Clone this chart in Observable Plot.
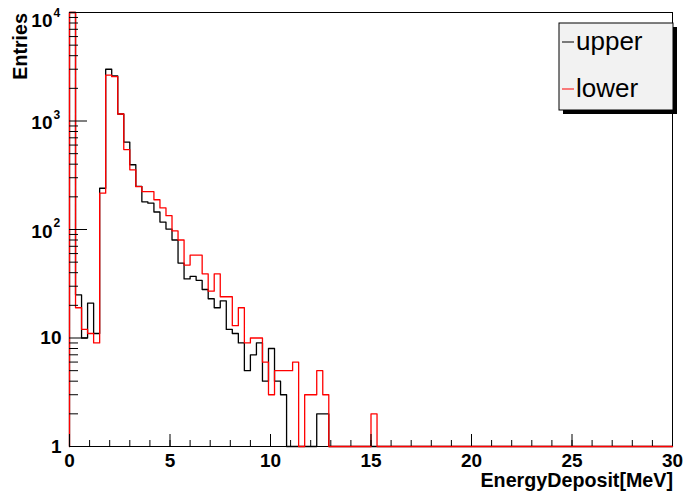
<!DOCTYPE html>
<html><head><meta charset="utf-8">
<script src="https://cdn.jsdelivr.net/npm/d3@7"></script>
<script src="https://cdn.jsdelivr.net/npm/@observablehq/plot@0.6"></script>
<style>
body{margin:0;background:#fff}
svg{display:block}
</style>
</head><body><div id="chart"></div>
<script>
// ---- data (bin width 0.3 MeV, 100 bins from 0 to 30 MeV) ----
const binWidth = 0.3;
const upper = [
  20000, 25, 10, 21, 11, 240, 3000, 2600, 1160, 640,
  395, 250, 180, 175, 145, 117, 101, 80, 49, 35,
  37, 34, 28, 23, 19, 22, 12, 11, 9, 5,
  7, 9, 4, 8, 4, 3, 0, 0, 0, 0,
  0, 2, 2, 0, 0, 0, 0, 0, 0, 0,
  0, 0, 0, 0, 0, 0, 0, 0, 0, 0,
  0, 0, 0, 0, 0, 0, 0, 0, 0, 0,
  0, 0, 0, 0, 0, 0, 0, 0, 0, 0,
  0, 0, 0, 0, 0, 0, 0, 0, 0, 0,
  0, 0, 0, 0, 0, 0, 0, 0, 0, 0
];
const lower = [
  20000, 19, 12, 11, 9, 216, 2650, 2560, 1160, 545,
  355, 248, 223, 223, 188, 158, 134, 97, 80, 47,
  58, 58, 39, 27, 39, 24, 24, 13, 19, 9,
  10, 10, 6, 3, 5, 5, 5, 6, 0, 3,
  3, 5, 3, 0, 0, 0, 0, 0, 0, 0,
  2, 0, 0, 0, 0, 0, 0, 0, 0, 0,
  0, 0, 0, 0, 0, 0, 0, 0, 0, 0,
  0, 0, 0, 0, 0, 0, 0, 0, 0, 0,
  0, 0, 0, 0, 0, 0, 0, 0, 0, 0,
  0, 0, 0, 0, 0, 0, 0, 0, 0, 0
];
const seriesNames = ["upper", "lower"];
const seriesColors = ["#000000", "#ff0000"];
const xMajorTicks = [0, 5, 10, 15, 20, 25, 30];
const xMinorTicks = [0,1,2,3,4,5,6,7,8,9,10,11,12,13,14,15,16,17,18,19,20,21,22,23,24,25,26,27,28,29,30];
const yMajorTicks = [1, 10, 100, 1000, 10000];
const yTickBase = ["1", "10", "10", "10", "10"];
const yTickExp = ["", "", "2", "3", "4"];
const yMinorTicks = [2,3,4,5,6,7,8,9,20,30,40,50,60,70,80,90,200,300,400,500,600,700,800,900,2000,3000,4000,5000,6000,7000,8000,9000];
const xTitle = "EnergyDeposit[MeV]";
const yTitle = "Entries";

// ---- build step outlines (ROOT-style histogram) ----
function outline(counts) {
  const n = counts.length;
  const pts = [{x: 0, y: 1}];
  counts.forEach((c, i) => pts.push({x: i * binWidth, y: Math.max(1, c)}));
  pts.push({x: n * binWidth, y: Math.max(1, counts[n - 1])});
  pts.push({x: n * binWidth, y: 1});
  return pts;
}

const W = 684, H = 494;
const mL = 69, mR = 12, mT = 12, mB = 48;
const fw = W - mL - mR, fh = H - mT - mB;
const FONT = "'Liberation Sans', Arial, Helvetica, sans-serif";

const yLabels = yMajorTicks.map((v, i) => ({v, base: yTickBase[i], exp: yTickExp[i]}));

const plot = Plot.plot({
  width: W, height: H,
  marginLeft: mL, marginRight: mR, marginTop: mT, marginBottom: mB,
  style: {fontFamily: FONT, background: "#fff", overflow: "visible"},
  x: {domain: [0, 30], axis: null},
  y: {type: "log", domain: [1, 10000], clamp: true, axis: null},
  marks: [
    Plot.frame({stroke: "#000", strokeWidth: 1}),
    Plot.line(outline(upper), {x: "x", y: "y", curve: "step-after", stroke: seriesColors[0], strokeWidth: 1.3}),
    Plot.line(outline(lower), {x: "x", y: "y", curve: "step-after", stroke: seriesColors[1], strokeWidth: 1.3}),
    // x ticks (inward)
    Plot.tickX(xMinorTicks, {x: d => d, insetTop: fh - 6, stroke: "#000", strokeWidth: 1}),
    Plot.tickX(xMajorTicks, {x: d => d, insetTop: fh - 12, stroke: "#000", strokeWidth: 1}),
    // y ticks (inward)
    Plot.tickY(yMinorTicks, {y: d => d, insetRight: fw - 9, stroke: "#000", strokeWidth: 1}),
    Plot.tickY(yMajorTicks, {y: d => d, insetRight: fw - 18, stroke: "#000", strokeWidth: 1}),
    // x tick labels
    Plot.text(xMajorTicks, {x: d => d, frameAnchor: "bottom", lineAnchor: "top", dy: 7, text: d => String(d),
      fontSize: 19, fontWeight: "bold", fill: "#000"}),
    // y tick labels without exponent
    Plot.text(yLabels.filter(d => !d.exp), {y: "v", frameAnchor: "left", textAnchor: "end", lineAnchor: "middle",
      dx: -8, dy: 0, text: "base", fontSize: 19, fontWeight: "bold", fill: "#000"}),
    // y tick labels "10" with exponent
    Plot.text(yLabels.filter(d => d.exp && d.v < 10000), {y: "v", frameAnchor: "left", textAnchor: "end", lineAnchor: "middle",
      dx: -17, dy: 2, text: "base", fontSize: 19, fontWeight: "bold", fill: "#000"}),
    Plot.text(yLabels.filter(d => d.exp && d.v < 10000), {y: "v", frameAnchor: "left", textAnchor: "start", lineAnchor: "middle",
      dx: -16, dy: -6, text: "exp", fontSize: 12, fontWeight: "bold", fill: "#000"}),
    Plot.text(yLabels.filter(d => d.v >= 10000), {y: "v", frameAnchor: "left", textAnchor: "end", lineAnchor: "middle",
      dx: -17, dy: 8, text: "base", fontSize: 19, fontWeight: "bold", fill: "#000"}),
    Plot.text(yLabels.filter(d => d.v >= 10000), {y: "v", frameAnchor: "left", textAnchor: "start", lineAnchor: "middle",
      dx: -16, dy: 1, text: "exp", fontSize: 12, fontWeight: "bold", fill: "#000"})
  ]
});

const svg = d3.select(plot);
// axis titles
svg.append("text").attr("x", W - mR + 1).attr("y", 487).attr("text-anchor", "end")
  .attr("font-family", FONT).attr("font-weight", "bold").attr("font-size", 19.7).attr("fill", "#000")
  .text(xTitle);
svg.append("text").attr("transform", `translate(27,13) rotate(-90)`).attr("text-anchor", "end")
  .attr("font-family", FONT).attr("font-weight", "bold").attr("font-size", 19.7).attr("fill", "#000")
  .text(yTitle);

// legend (ROOT TLegend style with shadow)
const lg = svg.append("g");
const lx = 559, ly = 23, lw = 114, lh = 87;
lg.append("rect").attr("x", lx + 4).attr("y", ly + 4).attr("width", lw).attr("height", lh).attr("fill", "#000");
lg.append("rect").attr("x", lx).attr("y", ly).attr("width", lw).attr("height", lh)
  .attr("fill", "#f2f2f2").attr("stroke", "#000").attr("stroke-width", 1);
seriesNames.forEach((name, i) => {
  const cy = ly + 19 + i * 47;
  lg.append("line").attr("x1", lx + 3).attr("x2", lx + 15).attr("y1", cy).attr("y2", cy)
    .attr("stroke", seriesColors[i]).attr("stroke-width", 1);
  lg.append("text").attr("x", lx + 17).attr("y", cy + 8).attr("text-anchor", "start")
    .attr("font-family", FONT).attr("font-size", 26).attr("fill", "#000").text(name);
});

document.getElementById("chart").appendChild(plot);
</script>
</body></html>
